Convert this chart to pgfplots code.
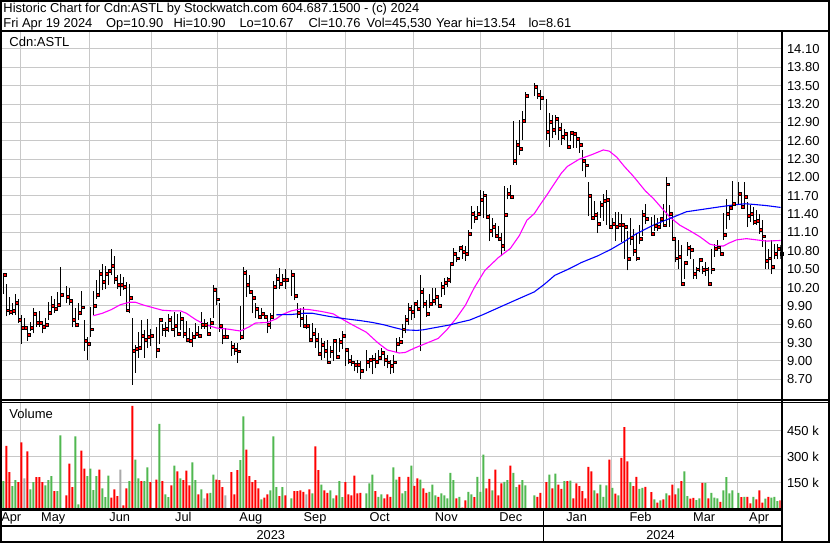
\documentclass[border=0pt]{standalone}
\usepackage{pgfplots}
\pgfplotsset{compat=1.18}
\usepackage{pgfplotstable}
\usepackage{fontspec}
\setmainfont{Liberation Sans}
\definecolor{gridc}{RGB}{200,200,200}
\definecolor{vgreen}{RGB}{80,184,80}
\definecolor{vred}{RGB}{255,0,0}
\definecolor{vgrey}{RGB}{170,170,170}
\definecolor{mag}{RGB}{255,0,255}
\definecolor{mblue}{RGB}{0,0,255}
\newcommand{\hdr}{\fontsize{12.9bp}{15bp}\selectfont}
\newcommand{\lab}{\fontsize{13bp}{15bp}\selectfont}
\newcommand{\mlab}{\fontsize{12.8bp}{15bp}\selectfont}

\pgfplotstableread{
k h l c
-1 10.40 9.99 10.15
0 10.43 10.10 10.41
1 10.26 9.73 9.83
2 10.04 9.75 9.81
3 9.94 9.75 9.82
4 10.10 9.75 9.96
5 10.02 9.62 9.67
6 9.75 9.28 9.55
7 9.71 9.51 9.55
8 9.52 9.33 9.43
9 9.64 9.49 9.55
10 9.87 9.45 9.78
11 9.75 9.56 9.63
12 9.82 9.56 9.62
13 9.64 9.45 9.56
14 9.71 9.53 9.59
15 9.96 9.67 9.79
16 10.06 9.80 9.91
17 10.02 9.79 9.86
18 10.13 9.86 9.92
19 10.53 9.94 10.09
21 10.22 9.95 10.05
22 10.19 9.92 9.99
23 10.02 9.55 9.67
24 9.87 9.55 9.59
25 9.94 9.67 9.79
26 10.14 9.78 9.88
27 9.67 9.16 9.33
28 9.40 9.02 9.28
29 9.89 9.40 9.52
30 10.14 9.75 9.91
31 10.32 10.02 10.09
32 10.49 10.07 10.43
33 10.59 10.16 10.29
34 10.55 10.17 10.43
35 10.50 10.24 10.47
36 10.83 10.40 10.56
37 10.72 10.26 10.34
38 10.40 10.18 10.25
39 10.43 10.07 10.24
40 10.37 10.16 10.21
41 10.29 9.81 9.83
42 10.26 9.78 10.04
43 9.70 8.61 9.17
44 9.26 8.81 9.20
45 9.48 9.05 9.21
46 9.67 9.21 9.41
47 9.51 9.05 9.35
48 9.68 9.21 9.40
49 9.53 9.24 9.42
51 9.56 9.05 9.18
52 9.70 9.28 9.67
53 9.60 9.41 9.52
54 9.64 9.40 9.53
55 9.77 9.47 9.67
56 9.73 9.50 9.52
57 9.80 9.39 9.57
58 9.77 9.42 9.45
59 9.80 9.50 9.69
60 9.65 9.37 9.45
61 9.66 9.33 9.35
62 9.54 9.32 9.33
63 9.47 9.23 9.40
64 9.62 9.37 9.45
65 9.58 9.41 9.42
66 9.80 9.53 9.59
67 9.68 9.53 9.59
68 9.64 9.42 9.44
69 9.70 9.53 9.63
70 10.24 9.70 10.17
71 10.19 9.91 10.01
72 9.94 9.47 9.57
73 9.58 9.27 9.40
74 9.54 9.37 9.40
76 9.32 9.08 9.24
77 9.29 9.10 9.19
78 9.29 8.97 9.16
79 9.90 9.35 9.40
80 10.53 9.43 10.44
81 10.48 10.05 10.24
82 10.40 10.12 10.14
83 10.16 9.78 10.04
84 9.94 9.70 9.85
85 9.87 9.72 9.73
86 9.86 9.70 9.78
87 9.79 9.70 9.73
88 9.70 9.45 9.59
89 9.78 9.53 9.73
90 10.30 9.75 10.22
91 10.43 10.24 10.35
92 10.52 10.18 10.27
93 10.43 10.24 10.33
94 10.51 10.18 10.33
96 10.48 10.07 10.41
97 10.40 9.99 10.06
98 9.94 9.70 9.79
99 9.86 9.56 9.70
100 9.89 9.57 9.57
101 9.75 9.53 9.57
102 9.56 9.32 9.35
103 9.62 9.37 9.44
104 9.54 9.21 9.35
105 9.45 9.10 9.12
106 9.37 9.02 9.26
107 9.32 9.05 9.17
108 9.35 8.98 8.98
109 9.24 9.05 9.16
110 9.35 9.00 9.33
111 9.34 9.07 9.07
112 9.38 9.14 9.31
113 9.49 9.19 9.41
114 9.22 8.92 9.19
115 9.19 8.95 9.00
116 9.10 8.92 8.98
117 9.00 8.83 8.94
118 9.02 8.80 8.94
119 9.00 8.71 8.84
121 9.18 8.83 8.99
122 9.05 8.88 9.02
123 9.10 8.78 9.03
124 9.13 8.88 8.99
125 9.18 8.97 9.05
126 9.22 9.02 9.13
127 9.13 8.91 9.02
128 9.10 8.88 8.98
129 9.02 8.78 8.92
130 9.10 8.81 8.98
131 9.37 9.13 9.28
132 9.40 9.26 9.32
133 9.61 9.37 9.52
134 9.75 9.45 9.67
135 9.94 9.59 9.86
136 9.91 9.67 9.80
137 9.96 9.70 9.94
138 10.00 9.81 9.86
139 10.40 9.16 10.13
140 10.19 9.86 9.93
141 10.00 9.72 9.78
142 10.10 9.86 9.94
143 10.19 9.97 9.98
144 10.19 9.91 10.05
145 10.05 9.87 9.90
146 10.29 10.05 10.21
147 10.35 10.08 10.28
148 10.38 10.21 10.33
149 10.62 10.27 10.59
150 10.84 10.56 10.75
151 10.78 10.62 10.68
152 10.88 10.78 10.85
153 10.89 10.67 10.78
154 10.88 10.64 10.76
155 11.14 10.73 11.08
156 11.53 11.15 11.41
157 11.45 11.26 11.34
158 11.53 11.34 11.41
159 11.80 11.40 11.63
160 11.78 11.34 11.71
161 11.70 11.34 11.36
162 11.40 10.96 11.13
163 11.34 11.02 11.19
164 11.26 11.02 11.05
165 11.21 10.96 11.00
166 11.10 10.72 10.88
167 11.86 10.80 11.39
168 11.83 11.64 11.73
169 11.87 11.67 11.69
170 12.92 12.21 12.27
171 12.62 12.21 12.53
172 12.94 12.37 12.47
173 13.08 12.61 12.93
174 13.40 12.94 13.34
177 13.54 13.33 13.48
178 13.51 13.29 13.36
179 13.43 13.11 13.30
181 13.28 12.61 12.75
182 13.05 12.50 12.91
183 13.02 12.64 12.78
184 13.02 12.69 12.96
185 12.97 12.61 12.79
186 12.89 12.53 12.67
187 12.80 12.61 12.71
188 12.75 12.50 12.51
189 12.75 12.59 12.73
190 12.72 12.48 12.71
191 12.69 12.48 12.64
192 12.61 12.40 12.53
193 12.45 12.10 12.28
194 12.25 12.01 12.20
195 11.93 11.37 11.70
196 11.70 11.34 11.34
197 11.62 11.34 11.39
198 11.43 11.10 11.25
199 11.62 11.34 11.55
200 11.73 11.29 11.62
201 11.80 11.23 11.63
202 11.64 11.18 11.20
203 11.34 11.15 11.24
204 11.43 10.96 11.20
205 11.43 11.15 11.23
206 11.41 10.94 11.23
207 11.24 10.67 11.19
208 11.13 10.48 10.67
209 11.33 10.89 11.02
210 11.16 10.72 10.81
211 11.08 10.64 10.68
212 11.22 10.91 11.00
213 11.46 11.05 11.39
214 11.57 11.24 11.32
216 11.35 11.06 11.08
217 11.38 11.13 11.21
218 11.33 11.13 11.20
219 11.35 11.22 11.33
220 11.57 11.19 11.22
221 12.00 11.19 11.89
222 11.55 11.19 11.41
223 11.41 11.00 11.00
224 11.00 10.61 10.68
225 10.97 10.50 10.71
226 10.89 10.24 10.27
227 10.61 10.34 10.60
228 10.94 10.72 10.85
229 10.89 10.67 10.82
230 10.67 10.34 10.42
231 10.54 10.34 10.50
232 10.66 10.45 10.66
233 10.56 10.42 10.49
234 10.61 10.39 10.50
235 10.53 10.26 10.27
236 10.83 10.42 10.50
237 10.91 10.70 10.84
238 10.97 10.81 10.86
239 10.85 10.75 10.76
240 11.42 10.98 11.06
241 11.65 11.16 11.41
242 11.55 11.30 11.50
243 11.94 11.49 11.57
245 11.93 11.57 11.73
246 11.74 11.52 11.52
247 11.93 11.52 11.69
248 11.60 11.19 11.38
249 11.55 11.28 11.41
250 11.52 11.22 11.28
251 11.46 11.22 11.30
252 11.41 11.08 11.15
253 11.30 10.86 11.04
254 10.97 10.50 10.64
255 10.83 10.50 10.68
256 10.97 10.42 10.54
257 10.91 10.67 10.76
258 10.91 10.67 10.84
259 10.90 10.67 10.76
}\pricedata

\pgfplotstableread{
k v c
-1 196 2
0 158 1
1 363 0
2 210 0
3 129 1
4 163 1
5 152 0
6 383 0
7 173 2
8 331 0
9 110 1
10 152 1
11 181 0
12 181 0
13 152 0
14 133 1
15 163 1
16 187 1
17 100 0
18 100 1
19 423 1
21 75 0
22 260 0
23 123 0
24 417 1
25 23 1
26 335 0
27 231 0
28 187 1
29 231 1
30 106 1
31 187 1
32 225 0
33 115 1
34 65 1
35 190 1
36 62 0
37 110 0
38 71 0
39 225 2
40 17 0
41 115 0
42 158 1
43 594 0
44 283 1
45 173 1
46 158 0
47 158 1
48 238 1
49 152 0
51 167 0
52 490 1
53 158 0
54 81 1
55 65 1
56 133 0
57 248 1
58 215 0
59 173 1
60 163 0
61 219 0
62 133 0
63 267 1
64 163 1
65 81 0
66 110 1
67 58 2
68 87 0
69 90 1
70 196 1
71 167 0
72 163 0
73 123 0
74 75 2
76 210 0
77 81 0
78 221 0
79 279 1
80 533 1
81 340 0
82 187 0
83 152 0
84 163 0
85 115 0
86 52 1
87 62 0
88 81 0
89 104 1
90 417 1
91 123 1
92 71 0
93 123 1
94 75 0
96 58 1
97 100 0
98 100 0
99 104 0
100 96 0
101 81 2
102 110 0
103 87 1
104 360 0
105 221 0
106 138 1
107 104 0
108 90 0
109 104 1
110 58 1
111 75 0
112 158 1
113 65 1
114 152 0
115 81 0
116 75 0
117 190 0
118 87 0
119 90 0
121 87 1
122 144 1
123 196 1
124 100 0
125 67 1
126 81 1
127 58 0
128 81 0
129 67 0
130 238 1
131 167 1
132 183 0
133 87 1
134 100 1
135 183 0
136 248 1
137 130 0
138 173 0
139 167 1
140 115 0
141 90 0
142 96 1
143 138 1
144 75 1
145 67 0
146 87 1
147 75 1
148 58 1
149 206 1
150 163 1
151 58 0
152 67 1
153 4 0
154 46 0
155 96 1
156 81 1
157 65 0
158 183 1
159 96 1
160 312 1
161 115 0
162 171 0
163 104 1
164 225 0
165 75 0
166 144 0
167 154 1
168 163 1
169 248 0
170 206 1
171 123 1
172 138 0
173 163 1
174 133 1
177 75 1
178 67 0
179 90 0
181 152 0
182 196 1
183 115 0
184 202 1
185 138 0
186 113 0
187 158 1
188 158 0
189 161 1
190 58 0
191 144 0
192 129 0
193 100 0
194 58 0
195 240 0
196 215 0
197 104 1
198 87 0
199 138 1
200 67 1
201 133 1
202 283 0
203 119 1
204 85 0
205 75 1
206 292 0
207 471 0
208 273 0
209 152 1
210 129 0
211 183 0
212 113 1
213 119 1
214 125 0
216 94 0
217 52 1
218 33 0
219 46 1
220 52 0
221 87 1
222 75 0
223 138 0
224 81 0
225 115 1
226 158 0
227 215 1
228 71 1
229 56 0
230 60 0
231 48 1
232 58 1
233 148 0
234 148 1
235 58 0
236 90 1
237 62 1
238 58 1
239 38 0
240 104 1
241 181 1
242 87 1
243 104 1
245 90 1
246 65 0
247 67 1
248 67 0
249 29 0
250 67 1
251 52 0
252 104 0
253 33 0
254 56 1
255 67 0
256 62 1
257 67 1
258 42 1
259 46 0
}\voldata

\begin{document}
\begin{tikzpicture}
\useasboundingbox (0,0) rectangle (830bp,-543bp);
\fill[white] (0,0) rectangle (830bp,-543bp);
\pgfplotsset{
  panel/.style={scale only axis, width=778.5bp, xmin=-0.45, xmax=259.05,
    axis line style={draw=none}, tick style={draw=none},
    major tick length=0pt, minor tick length=0pt,
    grid style={gridc, line width=1bp},
    yticklabel pos=right,
    yticklabel style={anchor=west, inner sep=0pt, xshift=6.3bp, font=\lab},
    xtick={5.78,28.65,49.45,71.32,94.45,114.12,136.88,159.12,179.98,202.78,223.65,244.78},
    xticklabels={},
    xmajorgrids, ymajorgrids,
  }
}
\begin{axis}[panel, at={(2bp,-399.4bp)}, anchor=south west, height=367.1bp,
  ymin=8.372, ymax=14.373,
  ytick={8.7,9.0,9.3,9.6,9.9,10.2,10.5,10.8,11.1,11.4,11.7,12.0,12.3,12.6,12.9,13.2,13.5,13.8,14.1},
  yticklabels={8.70,9.00,9.30,9.60,9.90,10.20,10.50,10.80,11.10,11.40,11.70,12.00,12.30,12.60,12.90,13.20,13.50,13.80,14.10}]
\addplot [draw=none, mark=none, error bars/.cd, y dir=plus, y explicit, error mark=none,
  error bar style={draw=black, solid, line width=1.35bp}]
  table [x=k, y=l, y error plus expr=\thisrow{h}-\thisrow{l}] {\pricedata};
\addplot [only marks, mark=square*, mark size=1.45bp, mark options={fill=vred, draw=none, xshift=1.4bp}]
  table [x=k, y=c] {\pricedata};
\addplot [mag, line width=1.1bp] coordinates {
(30,9.74) (33,9.78) (36,9.84) (39,9.92) (42,9.96) (44,9.96) (47,9.91) (50,9.87) (53,9.83) (56,9.82)
(59,9.82) (61,9.78) (64,9.68) (67,9.60) (71,9.54) (75,9.52) (79,9.49) (82,9.56) (84,9.62) (88,9.63)
(91,9.69) (93,9.76) (96,9.82) (99,9.85) (102,9.84) (106,9.81) (110,9.77) (112,9.71) (116,9.60) (121,9.47)
(125,9.29) (128,9.18) (132,9.13) (134,9.14) (137,9.21) (141,9.29) (145,9.37) (148,9.52) (151,9.70) (154,9.91)
(157,10.20) (160.5,10.48) (165,10.69) (169,10.84) (172,11.05) (174.5,11.30) (177,11.41) (179,11.56) (181,11.70) (183,11.85)
(186,12.07) (188,12.18) (192,12.30) (196,12.37) (198,12.41) (200,12.45) (202,12.43) (204.5,12.33) (207,12.18) (210,12.02)
(212,11.90) (214,11.78) (216.6,11.66) (220,11.47) (222.2,11.35) (225.5,11.22) (228.8,11.13) (232.2,11.03) (235.5,10.91) (238,10.88)
(240,10.88) (242,10.93) (244.4,10.98) (247.7,11.00) (251,10.98) (254.4,10.96) (259.1,10.97)};
\addplot [mblue, line width=1.1bp] coordinates {
(91,9.755) (96,9.76) (100,9.78) (103,9.78) (109,9.725) (114,9.69) (119,9.66) (123,9.63) (127,9.59) (130,9.55)
(133.3,9.51) (137.8,9.50) (140,9.51) (143.3,9.54) (148.9,9.59) (152,9.63) (155.5,9.67) (160,9.76) (165,9.87) (170.5,9.99)
(177,10.13) (180.5,10.26) (183.8,10.40) (188.3,10.50) (192.7,10.61) (198.2,10.72) (202.7,10.83) (206.9,10.95) (211,11.08) (216.6,11.22)
(222.2,11.33) (227.7,11.44) (233.3,11.48) (238.8,11.52) (243.3,11.55) (247.2,11.57) (250,11.56) (254.4,11.54) (259.1,11.51)};
\end{axis}

\begin{axis}[panel, at={(2bp,-508.3bp)}, anchor=south west, height=105bp,
  ymin=0, ymax=609.4,
  ytick={150,300,450}, yticklabels={150 k,300 k,450 k},
  extra x ticks={2.65,16.65,38.8,60.0,82.5,103.9,125.45,147.65,169.15,191.1,212.4,233.6,251.95},
  extra x tick labels={Apr,May,Jun,Jul,Aug,Sep,Oct,Nov,Dec,Jan,Feb,Mar,Apr},
  extra x tick style={grid=none, xticklabel style={anchor=base, inner sep=0pt, yshift=-13.4bp, font=\mlab}}]
\addplot [ybar, bar width=2.2bp, bar shift=0pt, fill=vred, draw=none]
  table [x=k, y expr={\thisrow{c}==0 ? \thisrow{v} : 0}] {\voldata};
\addplot [ybar, bar width=2.2bp, bar shift=0pt, fill=vgreen, draw=none]
  table [x=k, y expr={\thisrow{c}==1 ? \thisrow{v} : 0}] {\voldata};
\addplot [ybar, bar width=2.2bp, bar shift=0pt, fill=vgrey, draw=none]
  table [x=k, y expr={\thisrow{c}==2 ? \thisrow{v} : 0}] {\voldata};
\end{axis}

% frame lines
\draw[line width=2bp] (0,-1bp) -- (830bp,-1bp);
\draw[line width=2bp] (1bp,0) -- (1bp,-543bp);
\draw[line width=2bp] (829bp,0) -- (829bp,-543bp);
\draw[line width=2bp] (0,-542bp) -- (830bp,-542bp);
\draw[line width=2.6bp] (0,-30.9bp) -- (830bp,-30.9bp);
\draw[line width=1.3bp] (0,-400.1bp) -- (830bp,-400.1bp);
\draw[line width=1.3bp] (0,-402.7bp) -- (830bp,-402.7bp);
\draw[line width=2.4bp] (0,-509.5bp) -- (781.8bp,-509.5bp);
\draw[line width=2.3bp] (0,-526.2bp) -- (781.8bp,-526.2bp);
\draw[line width=1.4bp] (543.3bp,-509.5bp) -- (543.3bp,-542bp);
\draw[line width=2.6bp] (781.8bp,-30bp) -- (781.8bp,-542bp);

% texts
\node[anchor=base west, inner sep=0pt, font=\hdr] at (3.3bp,-12.7bp) {Historic Chart for Cdn:ASTL by Stockwatch.com 604.687.1500 - (c) 2024};
\node[anchor=base west, inner sep=0pt, font=\hdr] at (3.3bp,-27.3bp) {Fri Apr 19 2024};
\node[anchor=base west, inner sep=0pt, font=\hdr] at (106bp,-27.3bp) {Op=10.90};
\node[anchor=base west, inner sep=0pt, font=\hdr] at (173.3bp,-27.3bp) {Hi=10.90};
\node[anchor=base west, inner sep=0pt, font=\hdr] at (239.3bp,-27.3bp) {Lo=10.67};
\node[anchor=base west, inner sep=0pt, font=\hdr] at (308.3bp,-27.3bp) {Cl=10.76};
\node[anchor=base west, inner sep=0pt, font=\hdr] at (366.5bp,-27.3bp) {Vol=45,530};
\node[anchor=base west, inner sep=0pt, font=\hdr] at (436bp,-27.3bp) {Year hi=13.54};
\node[anchor=base west, inner sep=0pt, font=\hdr] at (528.3bp,-27.3bp) {lo=8.61};
\node[anchor=base west, inner sep=0pt, font=\lab] at (9.3bp,-46bp) {Cdn:ASTL};
\node[anchor=base west, inner sep=0pt, font=\lab] at (9.3bp,-418.3bp) {Volume};
\node[anchor=base, inner sep=0pt, font=\mlab] at (270.8bp,-539bp) {2023};
\node[anchor=base, inner sep=0pt, font=\mlab] at (660.5bp,-539bp) {2024};
\end{tikzpicture}
\end{document}
